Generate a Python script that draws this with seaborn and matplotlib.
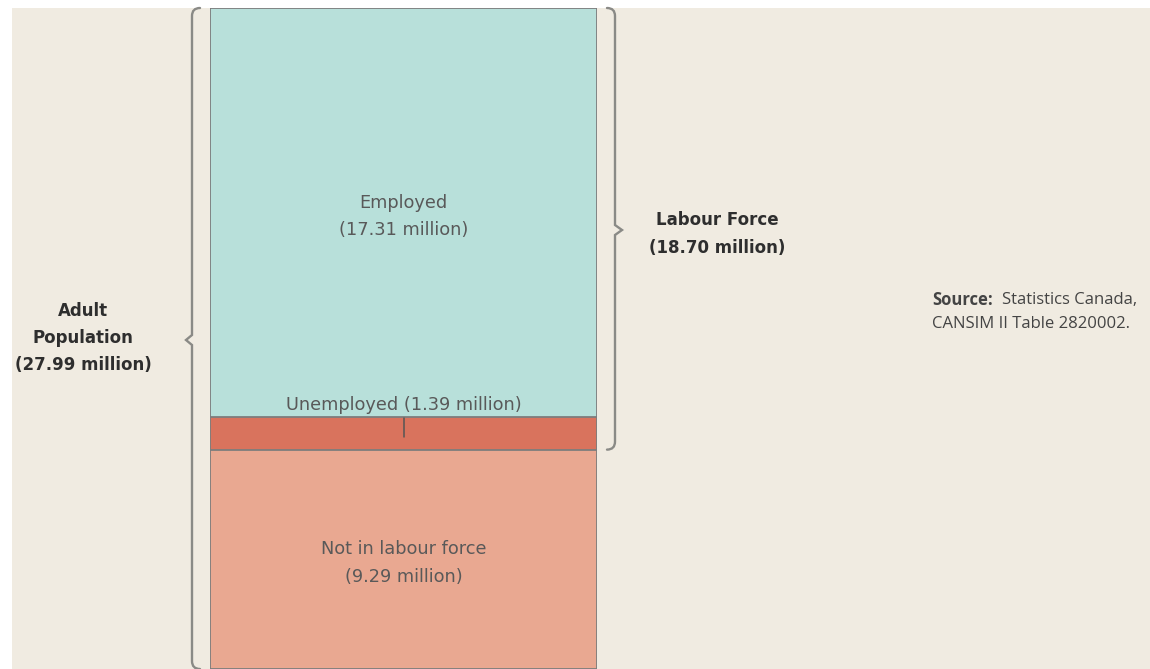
import numpy as np
import matplotlib
matplotlib.use("Agg")
import matplotlib.pyplot as plt
import seaborn as sns
from matplotlib.patches import Rectangle, PathPatch
from matplotlib.path import Path

# ---- data ----
segments = ["Employed", "Unemployed", "Not in labour force"]
values = [17.31, 1.39, 9.29]          # millions
labour_force = 18.70
adult_population = 27.99
colors = ["#b8e0da", "#d9735d", "#e9a891"]

W, H = 1150, 669
sns.set_theme(style="white")
plt.rcParams["font.family"] = ["DejaVu Sans"]

fig = plt.figure(figsize=(W / 100, H / 100), dpi=100)
fig.patch.set_facecolor("white")
fig.add_artist(Rectangle((12 / W, 0), 1, (H - 8) / H, transform=fig.transFigure,
                         facecolor="#f0ebe1", edgecolor="none", zorder=0))

# ---- stacked bar (drawn as overlaid cumulative bars) ----
ax = fig.add_axes([210 / W, 0, 387 / W, (H - 8) / H])
ax.set_facecolor("none")
cum = np.cumsum(values)
for seg, top, col in reversed(list(zip(segments, cum, colors))):
    sns.barplot(x=["Adult population"], y=[top], color=col, saturation=1,
                width=1, edgecolor="#7d7d7d", linewidth=1.3, ax=ax)
ax.set_xlim(-0.5, 0.5)
ax.set_ylim(adult_population, 0)
ax.axis("off")

txt_col = "#595959"
mid_emp = values[0] / 2
ax.text(0, mid_emp + 0.17, "Employed\n(17.31 million)", ha="center", va="center",
        fontsize=12.8, color=txt_col, linespacing=1.62)
ax.text(0, cum[0] - 0.52, "Unemployed (1.39 million)", ha="center", va="center",
        fontsize=12.8, color=txt_col)
ax.plot([0, 0], [cum[0] + 0.05, cum[0] + 0.85], color="#555555", lw=1.1)
mid_nilf = cum[1] + values[2] / 2
ax.text(0, mid_nilf + 0.15, "Not in labour force\n(9.29 million)", ha="center", va="center",
        fontsize=12.8, color=txt_col, linespacing=1.72)

# ---- overlay in pixel coordinates for brackets and side labels ----
ov = fig.add_axes([0, 0, 1, 1])
ov.set_xlim(0, W)
ov.set_ylim(H, 0)
ov.axis("off")
ov.set_facecolor("none")

def ypx(v):
    return 8 + v / adult_population * (H - 8)

def brace(x_line, x_end, y0, y1, ymid, tip, r=8):
    verts = [(x_end, y0), (x_line, y0), (x_line, y0 + r),
             (x_line, ymid - 5), (tip, ymid), (x_line, ymid + 5),
             (x_line, y1 - r), (x_line, y1), (x_end, y1)]
    codes = [Path.MOVETO, Path.CURVE3, Path.CURVE3,
             Path.LINETO, Path.LINETO, Path.LINETO,
             Path.LINETO, Path.CURVE3, Path.CURVE3]
    ov.add_patch(PathPatch(Path(verts, codes), facecolor="none",
                           edgecolor="#8a8a86", lw=1.7, capstyle="round"))

brace(192, 200, ypx(0), ypx(adult_population), 340, 186)
brace(615, 607, ypx(0), ypx(labour_force), 230, 622)

bold_col = "#2e2e2e"
ov.text(83, 338, "Adult\nPopulation\n(27.99 million)", ha="center", va="center",
        fontsize=12, fontweight="bold", color=bold_col, linespacing=1.62)
ov.text(717, 234, "Labour Force\n(18.70 million)", ha="center", va="center",
        fontsize=12, fontweight="bold", color=bold_col, linespacing=1.66)

src_col = "#444444"
ov.text(932, 300, "Source:", ha="left", va="center", fontsize=12,
        fontweight="bold", color=src_col, family="Open Sans")
ov.text(1002, 300, "Statistics Canada,", ha="left", va="center", fontsize=12,
        color=src_col, family="Open Sans")
ov.text(932, 324, "CANSIM II Table 2820002.", ha="left", va="center", fontsize=12,
        color=src_col, family="Open Sans")

fig.savefig("out.png", dpi=100, facecolor=fig.get_facecolor())
